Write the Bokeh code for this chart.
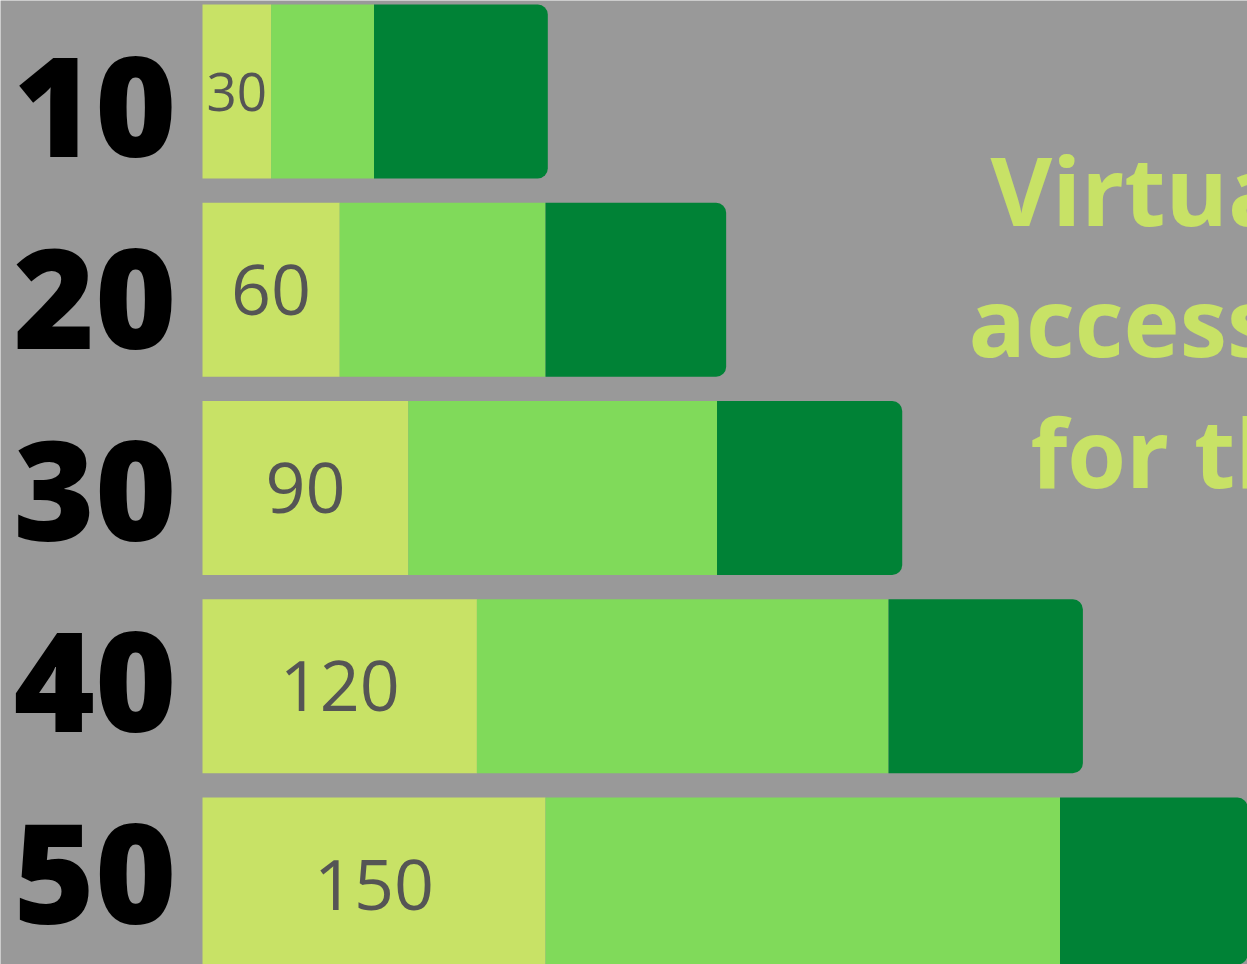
from bokeh.plotting import figure
from bokeh.models import ColumnDataSource, Range1d, Label
from bokeh.core.properties import value
from bokeh.embed import file_html
from bokeh.resources import INLINE

# ---- data ----
categories = ["10", "20", "30", "40", "50"]
light_vals = [30, 60, 90, 120, 150]
mid_vals = [45, 90, 135, 180, 225]
dark_vals = [76, 79, 81, 85, 88]
label_sizes = ["53px", "70px", "70px", "70px", "70px"]
title_lines = ["Virtual", "access", "for the"]

LIGHT = "#c8e266"
MID = "#80da5a"
DARK = "#008236"
BG = "#999999"

W, H = 1247, 964
LEFT = 202
PX_PER_UNIT = 2.2867
BAR_PITCH = 198.25
BAR0 = 91
LAB_PITCH = 191.75
LAB0 = 107

p = figure(width=W, height=H,
           x_range=Range1d(-LEFT / PX_PER_UNIT, (W - LEFT) / PX_PER_UNIT),
           y_range=Range1d((H - BAR0) / BAR_PITCH, -BAR0 / BAR_PITCH),
           output_backend="svg", toolbar_location=None,
           x_axis_type=None, y_axis_type=None,
           min_border_left=0, min_border_right=0, min_border_top=0, min_border_bottom=0,
           background_fill_color=BG, border_fill_color=BG, outline_line_color=None)
p.xgrid.visible = False
p.ygrid.visible = False
p.extra_y_ranges = {"lab": Range1d((H - LAB0) / LAB_PITCH, -LAB0 / LAB_PITCH)}


def px_x(px):
    return (px - LEFT) / PX_PER_UNIT


def px_y(py):
    return (py - BAR0) / BAR_PITCH


ys = list(range(len(categories)))
l1 = light_vals
l2 = [a + b for a, b in zip(light_vals, mid_vals)]
l3 = [a + b for a, b in zip(l2, dark_vals)]
src = ColumnDataSource(dict(
    y=ys, zero=[0] * len(ys), l1=l1, l2=l2, l3=l3,
    lx=[v / 2 for v in light_vals], lt=[str(v) for v in light_vals], fs=label_sizes))

bh = 174 / BAR_PITCH
p.hbar(y="y", left="zero", right="l1", height=bh, color=LIGHT, line_color=None, source=src)
p.hbar(y="y", left="l1", right="l2", height=bh, color=MID, line_color=None, source=src)
p.hbar(y="y", left="l2", right="l3", height=bh, color=DARK, line_color=None, source=src,
       border_radius=(0, 10, 10, 0))

p.text(x="lx", y="y", text="lt", text_font_size="fs", text_align="center",
       text_baseline="middle", text_color="#555555", text_font=value("Open Sans"), source=src)

# category labels (extra-bold weight passed with the size)
cat_src = ColumnDataSource(dict(
    i=ys, cat=categories, cx=[px_x(176)] * len(ys), cfs=["800 139px"] * len(ys)))
p.text(x="cx", y="i", text="cat", y_range_name="lab", source=cat_src,
       text_font=value("Open Sans"), text_font_style="normal", text_font_size="cfs",
       text_align="right", text_baseline="middle", text_color="black")

for line, tx, ty in zip(title_lines, [990, 968, 1030], [225, 356, 487]):
    p.add_layout(Label(x=px_x(tx), y=px_y(ty - 37), text=line, text_font="Open Sans",
                       text_font_style="bold", text_font_size="95px", text_color=LIGHT,
                       text_baseline="alphabetic", text_align="left"))

open("out.html", "w").write(file_html(p, INLINE))
